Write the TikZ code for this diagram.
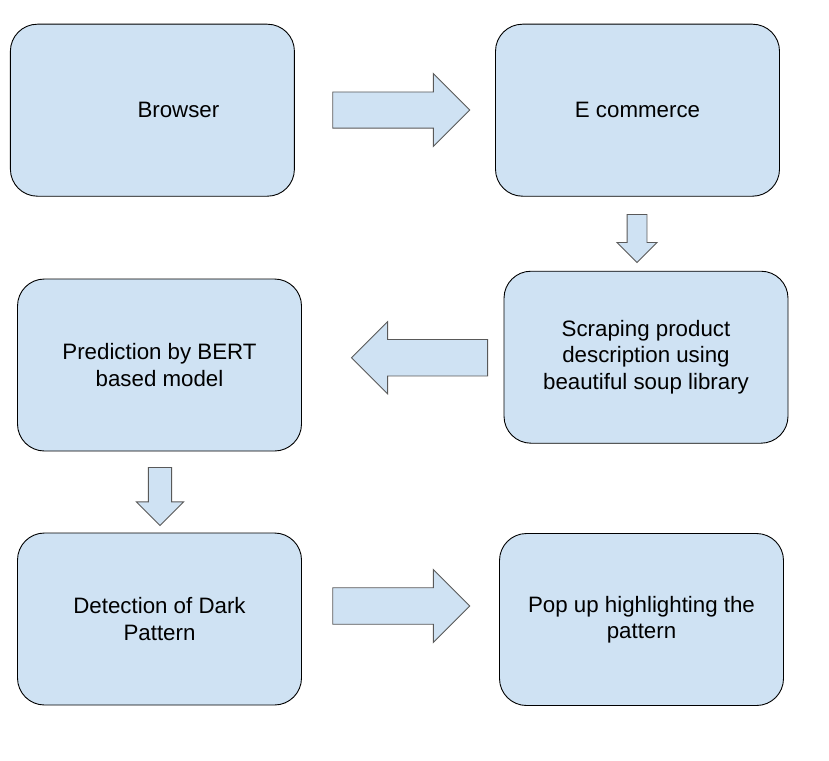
\documentclass[tikz,border=0pt]{standalone}
\usepackage{fontspec}
\setmainfont{Liberation Sans}
\usepackage{tikz}
\usetikzlibrary{shapes.arrows}
\definecolor{boxblue}{HTML}{CFE2F3}
\definecolor{arrowgray}{HTML}{595959}

\begin{document}
\begin{tikzpicture}[x=1pt, y=-1pt,
  stage/.style={draw=black, line width=0.9pt, fill=boxblue, rounded corners=27pt,
    minimum width=284pt, minimum height=172pt, inner sep=0pt, align=center,
    font=\fontsize{22.3}{26.5}\selectfont},
  blockarrow/.style={single arrow, draw=arrowgray, line width=0.9pt, fill=boxblue,
    inner xsep=0pt, single arrow head indent=0pt, anchor=tail}]
\useasboundingbox (0,0) rectangle (829,760);
\node[stage] (browser) at (152.4,110.2) {\hspace*{52pt}Browser};
\node[stage] (ecommerce) at (637.5,110.2) {E commerce};
\node[stage] (scraping) at (646,357.2) {Scraping product\\description using\\beautiful soup library};
\node[stage] (prediction) at (159.5,365) {Prediction by BERT\\based model};
\node[stage] (detection) at (159.5,619) {Detection of Dark\\Pattern};
\node[stage] (popup) at (641.5,619.5) {Pop up highlighting the\\pattern};
% block arrows between the stages
\node[blockarrow, minimum height=137pt, inner ysep=17.6pt, single arrow head extend=18.4pt] (a1) at (332.3,110) {};
\node[blockarrow, minimum height=48pt, inner ysep=9.5pt, single arrow head extend=10pt, rotate=-90] (a2) at (637,214) {};
\node[blockarrow, minimum height=136pt, inner ysep=17.8pt, single arrow head extend=17.8pt, rotate=180] (a3) at (488,357.7) {};
\node[blockarrow, minimum height=58pt, inner ysep=11.2pt, single arrow head extend=12pt, rotate=-90] (a4) at (160,467) {};
\node[blockarrow, minimum height=137pt, inner ysep=17.8pt, single arrow head extend=18.2pt] (a5) at (332.3,606) {};
\end{tikzpicture}
\end{document}
